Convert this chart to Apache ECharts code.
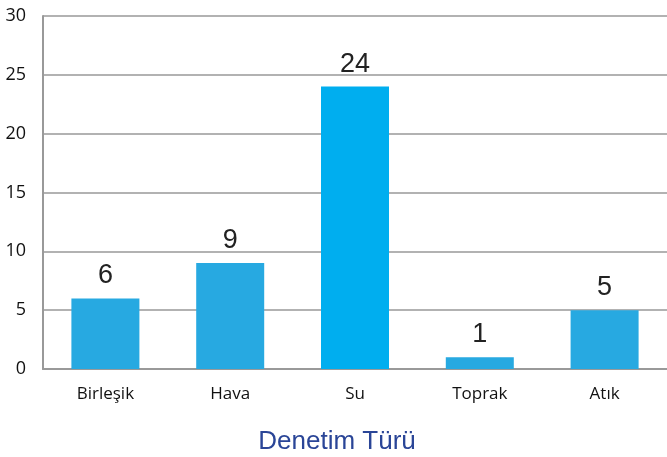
<!DOCTYPE html>
<html>
<head>
<meta charset="utf-8">
<script src="https://cdn.jsdelivr.net/npm/echarts@6/dist/echarts.min.js"></script>
<style>
	html, body { margin: 0; padding: 0; background: #fff; }
	#chart { width: 667px; height: 457px; }
</style>
</head>
<body>
<div id="chart"></div>
<script>
	// kategoriler ve denetim sayilari
	var categories = ['Birleşik', 'Hava', 'Su', 'Toprak', 'Atık'];
	var counts = [6, 9, 24, 1, 5];
	var barColors = ['#27a9e1', '#27a9e1', '#00aeef', '#27a9e1', '#27a9e1'];
	var yTicks = { min: 0, max: 30, interval: 5 };

	var mychart = echarts.init(document.getElementById('chart'));
	var option = {
		animation: false,
		grid: {
			top: 16,
			bottom: 88,
			left: 43,
			right: 0,
			outerBoundsMode: 'none'
		},
		xAxis: {
			type: 'category',
			data: categories,
			name: 'Denetim Türü',
			nameLocation: 'middle',
			nameGap: 60,
			nameTextStyle: {
				fontFamily: 'Liberation Sans',
				fontSize: 26,
				color: '#2a4597',
				padding: [0, 36, 0, 0]
			},
			axisLine: { lineStyle: { color: '#999', width: 2 } },
			axisTick: { show: false },
			axisLabel: {
				margin: 17,
				fontFamily: 'Open Sans',
				fontSize: 17,
				color: '#111'
			}
		},
		yAxis: {
			type: 'value',
			min: yTicks.min,
			max: yTicks.max,
			interval: yTicks.interval,
			axisLine: { show: true, lineStyle: { color: '#999', width: 2 } },
			axisTick: { show: false },
			splitLine: { lineStyle: { color: '#999', width: 1.5 } },
			axisLabel: {
				margin: 17,
				fontFamily: 'Open Sans',
				fontSize: 18,
				color: '#111'
			}
		},
		series: [{
			type: 'bar',
			barWidth: 68,
			data: counts.map(function (v, i) {
				return { value: v, itemStyle: { color: barColors[i] } };
			}),
			label: {
				show: true,
				position: 'top',
				distance: 9,
				fontFamily: 'Liberation Sans',
				fontSize: 27,
				color: '#222'
			}
		}]
	};
	mychart.setOption(option);
</script>
</body>
</html>
